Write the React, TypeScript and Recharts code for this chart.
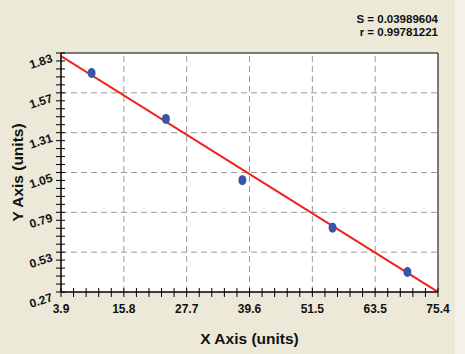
import React from 'react';
import {
  CartesianGrid,
  ComposedChart,
  Line,
  ReferenceArea,
  ReferenceLine,
  Scatter,
  XAxis,
  YAxis,
} from 'recharts';

const xMajor = [3.9, 15.82, 27.73, 39.65, 51.57, 63.48, 75.4];
const xLabels = ['3.9', '15.8', '27.7', '39.6', '51.5', '63.5', '75.4'];
const yMajor = [0.27, 0.53, 0.79, 1.05, 1.31, 1.57, 1.83];
const yLabels = ['0.27', '0.53', '0.79', '1.05', '1.31', '1.57', '1.83'];

const samples = [
  { x: 9.7, y: 1.7 },
  { x: 23.8, y: 1.4 },
  { x: 38.3, y: 1.0 },
  { x: 55.4, y: 0.69 },
  { x: 69.6, y: 0.4 },
];

const fitLine = [
  { x: 3.9, y: 1.81 },
  { x: 75.4, y: 0.27 },
];

const stats = ['S = 0.03989604', 'r = 0.99781221'];

// 4 minor ticks between each pair of majors
const withMinors = (majors: number[]) => {
  const out: number[] = [];
  for (let i = 0; i < majors.length - 1; i++) {
    const step = (majors[i + 1] - majors[i]) / 5;
    for (let k = 0; k < 5; k++) out.push(majors[i] + step * k);
  }
  out.push(majors[majors.length - 1]);
  return out;
};

const FONT = '"Liberation Sans", Arial, sans-serif';
const BG = '#ece9d8';

const majorIndex = (list: number[], v: number) =>
  list.findIndex((m) => Math.abs(m - v) < 1e-6);

const XTick = (props: any) => {
  const { x, y, payload } = props;
  const i = majorIndex(xMajor, payload.value);
  return (
    <g>
      <line x1={x} x2={x} y1={y - 4} y2={y + 5} stroke="#000" />
      {i >= 0 && (
        <text x={x} y={y + 21} textAnchor="middle" fontSize={12} fontWeight="bold" fontFamily={FONT} fill="#111">
          {xLabels[i]}
        </text>
      )}
    </g>
  );
};

const YTick = (props: any) => {
  const { x, y, payload } = props;
  const i = majorIndex(yMajor, payload.value);
  return (
    <g>
      <line x1={x - 5} x2={x + 4} y1={y} y2={y} stroke="#000" />
      {i >= 0 && (
        <text
          x={x - 9}
          y={y + 9}
          textAnchor="end"
          fontSize={12}
          fontWeight="bold"
          fontFamily={FONT}
          fill="#111"
          transform={`rotate(-18 ${x - 9} ${y + 5})`}
        >
          {yLabels[i]}
        </text>
      )}
    </g>
  );
};

const Dot = (props: any) => {
  const { cx, cy } = props;
  return <ellipse cx={cx} cy={cy} rx={4} ry={5} fill="#3a55a8" />;
};

export default function App() {
  return (
    <div style={{ position: 'relative', width: 465, height: 354, background: BG, fontFamily: FONT }}>
      <style>{'body{margin:0}'}</style>
      <div style={{ position: 'absolute', left: 455, top: 0, width: 10, height: 354, background: '#f4f2ea' }} />
      <div
        style={{
          position: 'absolute',
          right: 27,
          top: 13,
          textAlign: 'right',
          fontSize: 11.5,
          fontWeight: 'bold',
          lineHeight: '13px',
          color: '#111',
        }}
      >
        {stats.map((s) => (
          <div key={s}>{s}</div>
        ))}
      </div>
      <ComposedChart
        width={465}
        height={354}
        margin={{ top: 53, right: 27, bottom: 32, left: 8 }}
        style={{ position: 'absolute', left: 0, top: 0 }}
      >
        <CartesianGrid fill="#fff" horizontal={false} vertical={false} />
        <XAxis
          type="number"
          dataKey="x"
          domain={[3.9, 75.4]}
          ticks={withMinors(xMajor)}
          interval={0}
          tick={<XTick />}
          tickLine={false}
          tickSize={0}
          tickMargin={0}
          height={30}
          axisLine={{ stroke: '#000' }}
          allowDataOverflow
          label={{
            value: 'X Axis (units)',
            position: 'bottom',
            offset: 11,
            style: { fontSize: 15.5, fontWeight: 'bold', fontFamily: FONT, fill: '#111' },
          }}
        />
        <YAxis
          type="number"
          dataKey="y"
          domain={[0.27, 1.83]}
          ticks={withMinors(yMajor)}
          interval={0}
          tick={<YTick />}
          tickLine={false}
          tickSize={0}
          tickMargin={0}
          width={53}
          axisLine={{ stroke: '#000' }}
          allowDataOverflow
          label={{
            value: 'Y Axis (units)',
            angle: -90,
            position: 'insideLeft',
            offset: 9,
            style: { fontSize: 15.5, fontWeight: 'bold', fontFamily: FONT, fill: '#111', textAnchor: 'middle' },
          }}
        />
        {xMajor.slice(1, -1).map((v) => (
          <ReferenceLine key={`vx${v}`} x={v} stroke="#999" strokeDasharray="6 4" />
        ))}
        {yMajor.slice(1, -1).map((v) => (
          <ReferenceLine key={`hy${v}`} y={v} stroke="#999" strokeDasharray="6 4" />
        ))}
        <ReferenceArea x1={3.9} x2={75.4} y1={0.27} y2={1.83} fill="none" stroke="#000" strokeWidth={1} />
        <Line
          data={fitLine}
          dataKey="y"
          type="linear"
          stroke="#f2201a"
          strokeWidth={2}
          dot={false}
          activeDot={false}
          isAnimationActive={false}
        />
        <Scatter data={samples} dataKey="y" shape={<Dot />} isAnimationActive={false} />
      </ComposedChart>
    </div>
  );
}
